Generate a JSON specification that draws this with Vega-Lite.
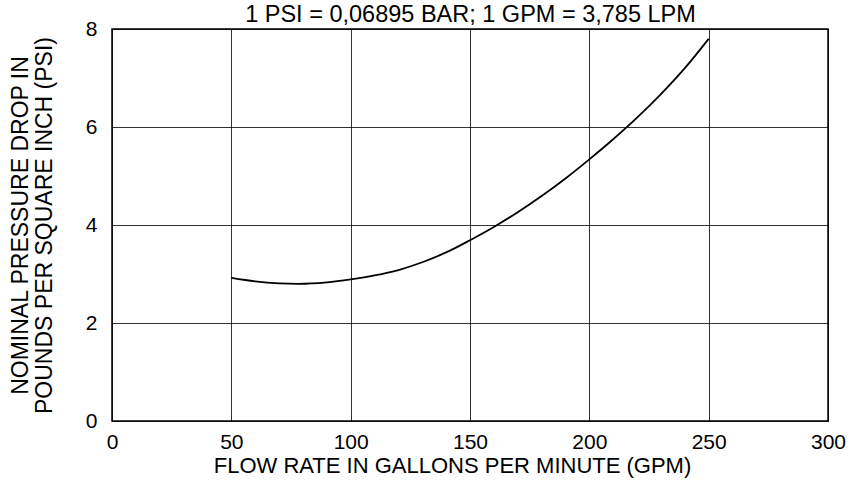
{
  "$schema": "https://vega.github.io/schema/vega-lite/v6.json",
  "autosize": "none",
  "width": 716,
  "height": 392,
  "padding": {"left": 112, "top": 29, "right": 23, "bottom": 63},
  "background": "white",
  "config": {
    "view": {"stroke": "black", "strokeWidth": 1.5},
    "axis": {
      "labelFont": "Liberation Sans",
      "titleFont": "Liberation Sans",
      "labelFontSize": 21,
      "titleFontSize": 22,
      "titleFontWeight": "normal",
      "labelColor": "black",
      "titleColor": "black",
      "labelFlush": false,
      "labelOverlap": false,
      "domain": false,
      "ticks": false,
      "grid": true,
      "gridColor": "black",
      "gridWidth": 1,
      "gridOpacity": 0.8
    }
  },
  "data": {
    "values": [
      {"gpm": 50, "psi": 2.92},
      {"gpm": 60, "psi": 2.85},
      {"gpm": 70, "psi": 2.81},
      {"gpm": 78, "psi": 2.80},
      {"gpm": 90, "psi": 2.83},
      {"gpm": 100, "psi": 2.89},
      {"gpm": 110, "psi": 2.97},
      {"gpm": 120, "psi": 3.08},
      {"gpm": 130, "psi": 3.24},
      {"gpm": 140, "psi": 3.44},
      {"gpm": 150, "psi": 3.69},
      {"gpm": 160, "psi": 3.96},
      {"gpm": 170, "psi": 4.26},
      {"gpm": 180, "psi": 4.59},
      {"gpm": 190, "psi": 4.95},
      {"gpm": 200, "psi": 5.34},
      {"gpm": 210, "psi": 5.75},
      {"gpm": 220, "psi": 6.19},
      {"gpm": 230, "psi": 6.67},
      {"gpm": 240, "psi": 7.2},
      {"gpm": 250, "psi": 7.8}
    ]
  },
  "layer": [
    {
      "mark": {"type": "line", "color": "black", "strokeWidth": 1.8, "interpolate": "monotone"},
      "encoding": {
        "x": {
          "field": "gpm",
          "type": "quantitative",
          "scale": {"domain": [0, 300], "nice": false},
          "axis": {
            "values": [0, 50, 100, 150, 200, 250, 300],
            "title": "FLOW RATE IN GALLONS PER MINUTE (GPM)",
            "labelPadding": 10,
            "titlePadding": 3,
            "titleX": 340
          }
        },
        "y": {
          "field": "psi",
          "type": "quantitative",
          "scale": {"domain": [0, 8], "nice": false},
          "axis": {
            "values": [0, 2, 4, 6, 8],
            "title": ["NOMINAL PRESSURE DROP IN", "POUNDS PER SQUARE INCH (PSI)"],
            "titleFontSize": 23,
            "labelPadding": 15,
            "titlePadding": 29,
            "titleLineHeight": 24
          }
        }
      }
    },
    {
      "mark": {"type": "line", "strokeOpacity": 0},
      "encoding": {
        "x": {
          "field": "gpm",
          "type": "quantitative",
          "axis": {
            "orient": "top",
            "labels": false,
            "grid": false,
            "ticks": false,
            "domain": false,
            "title": "1 PSI = 0,06895 BAR; 1 GPM = 3,785 LPM",
            "titleFontSize": 23.5,
            "titleBaseline": "alphabetic",
            "titlePadding": 8
          }
        },
        "y": {
          "field": "psi",
          "type": "quantitative",
          "axis": null
        }
      }
    }
  ],
  "resolve": {"axis": {"x": "independent", "y": "independent"}}
}
